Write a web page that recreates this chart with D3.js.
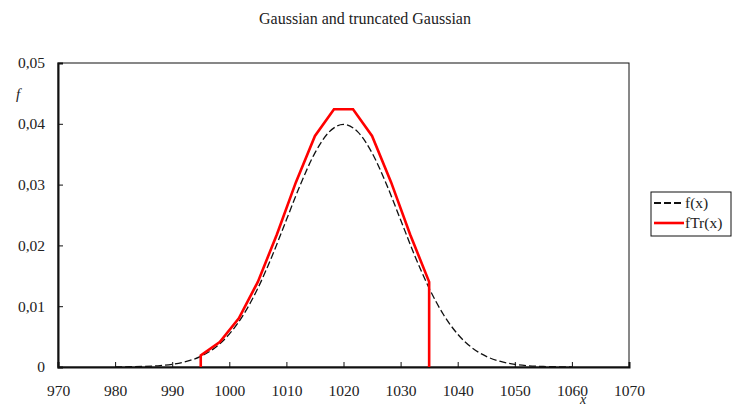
<!DOCTYPE html>
<html>
<head>
<meta charset="utf-8">
<script src="https://cdn.jsdelivr.net/npm/d3@7"></script>
<style>
  body { margin: 0; background: #fff; }
  text { font-family: "Liberation Serif", "Times New Roman", serif; fill: #222; }
</style>
</head>
<body>
<section></section>
<script>
// Gaussian f(x), read every 2.5 units from 980 to 1060
const gaussX = [980, 982.5, 985, 987.5, 990, 992.5, 995, 997.5, 1000, 1002.5, 1005, 1007.5, 1010, 1012.5, 1015, 1017.5,
  1020, 1022.5, 1025, 1027.5, 1030, 1032.5, 1035, 1037.5, 1040, 1042.5, 1045, 1047.5, 1050, 1052.5, 1055, 1057.5, 1060];
const gaussY = [0.00001, 0.00004, 0.00009, 0.0002, 0.00044, 0.00091, 0.00175, 0.00317, 0.0054, 0.00863, 0.01295, 0.01827,
  0.0242, 0.03011, 0.03521, 0.03867, 0.03989, 0.03867, 0.03521, 0.03011, 0.0242, 0.01827, 0.01295, 0.00863, 0.0054,
  0.00317, 0.00175, 0.00091, 0.00044, 0.0002, 0.00009, 0.00004, 0.00001];

// truncated Gaussian fTr(x), 995..1035
const truncX = [995, 995, 998.33, 1001.67, 1005, 1008.33, 1011.67, 1015, 1018.33, 1021.67, 1025, 1028.33, 1031.67, 1035, 1035];
const truncY = [0, 0.0019, 0.0041, 0.008, 0.014, 0.0218, 0.0304, 0.038, 0.0424, 0.0424, 0.038, 0.0304, 0.0218, 0.014, 0];

const xTicks = [970, 980, 990, 1000, 1010, 1020, 1030, 1040, 1050, 1060, 1070];
const yTicks = [0, 0.01, 0.02, 0.03, 0.04, 0.05];
const seriesNames = ["f(x)", "fTr(x)"];

const w = 733;
const h = 408;
const pLeft = 58, pRight = 629, pTop = 63, pBottom = 367;

const xScale = d3.scaleLinear().domain([970, 1070]).range([pLeft, pRight]);
const yScale = d3.scaleLinear().domain([0, 0.05]).range([pBottom, pTop]);

const svg = d3
  .select("section")
  .append("svg")
  .attr("width", w)
  .attr("height", h);

svg
  .append("text")
  .attr("x", 365)
  .attr("y", 24)
  .attr("text-anchor", "middle")
  .style("font-size", "16px")
  .text("Gaussian and truncated Gaussian");

// plot frame
svg
  .append("rect")
  .attr("x", pLeft)
  .attr("y", pTop)
  .attr("width", pRight - pLeft)
  .attr("height", pBottom - pTop)
  .attr("fill", "none")
  .attr("stroke", "#111")
  .attr("stroke-width", 1);

const yAxis = svg
  .append("g")
  .attr("transform", `translate(${pLeft},0)`)
  .call(d3.axisRight(yScale).tickValues(yTicks).tickSize(5).tickFormat(d => d === 0 ? "0" : d3.format(".2f")(d).replace(".", ",")));
yAxis.select(".domain").attr("stroke", "#111").attr("stroke-width", 2);
yAxis.selectAll(".tick line").attr("stroke", "#111");
yAxis
  .selectAll(".tick text")
  .attr("x", -13)
  .attr("text-anchor", "end")
  .style("font-size", "15.5px")
  .style("font-family", "Liberation Serif")
  .attr("fill", "#222");

const xAxis = svg
  .append("g")
  .attr("transform", `translate(0,${pBottom})`)
  .call(d3.axisTop(xScale).tickValues(xTicks).tickSize(5).tickFormat(d3.format("d")));
xAxis.select(".domain").attr("stroke", "#111").attr("stroke-width", 2);
xAxis.selectAll(".tick line").attr("stroke", "#111");
xAxis
  .selectAll(".tick text")
  .attr("y", 29)
  .attr("dy", 0)
  .style("font-size", "15.5px")
  .style("font-family", "Liberation Serif")
  .attr("fill", "#222");

svg
  .append("text")
  .attr("x", 18)
  .attr("y", 99)
  .attr("text-anchor", "middle")
  .style("font-size", "15px")
  .style("font-style", "italic")
  .text("f");

svg
  .append("text")
  .attr("x", 583)
  .attr("y", 404)
  .attr("text-anchor", "middle")
  .style("font-size", "14px")
  .style("font-style", "italic")
  .text("x");

const line = d3
  .line()
  .x(d => xScale(d[0]))
  .y(d => yScale(d[1]));

svg
  .append("path")
  .datum(d3.zip(gaussX, gaussY))
  .attr("d", line.curve(d3.curveMonotoneX))
  .attr("fill", "none")
  .attr("stroke", "#111")
  .attr("stroke-width", 1.3)
  .attr("stroke-dasharray", "7,3");

svg
  .append("path")
  .datum(d3.zip(truncX, truncY))
  .attr("d", line.curve(d3.curveLinear))
  .attr("fill", "none")
  .attr("stroke", "#ff0000")
  .attr("stroke-width", 2.6)
  .attr("stroke-linejoin", "miter");

// legend
const legend = svg.append("g").attr("transform", "translate(651,192)");
legend
  .append("rect")
  .attr("width", 80)
  .attr("height", 44)
  .attr("fill", "#fff")
  .attr("stroke", "#111")
  .attr("stroke-width", 1);

const styles = [
  { stroke: "#111", width: 2, dash: "7,3" },
  { stroke: "#ff0000", width: 2.6, dash: null }
];

legend
  .selectAll("g.item")
  .data(seriesNames)
  .enter()
  .append("g")
  .attr("class", "item")
  .attr("transform", (d, i) => `translate(0,${11 + i * 20})`)
  .each(function (d, i) {
    const g = d3.select(this);
    g.append("line")
      .attr("x1", 3)
      .attr("x2", 33)
      .attr("y1", 0)
      .attr("y2", 0)
      .attr("stroke", styles[i].stroke)
      .attr("stroke-width", styles[i].width)
      .attr("stroke-dasharray", styles[i].dash);
    g.append("text")
      .attr("x", 34)
      .attr("y", 5)
      .style("font-size", "15.5px")
      .text(d);
  });
</script>
</body>
</html>
